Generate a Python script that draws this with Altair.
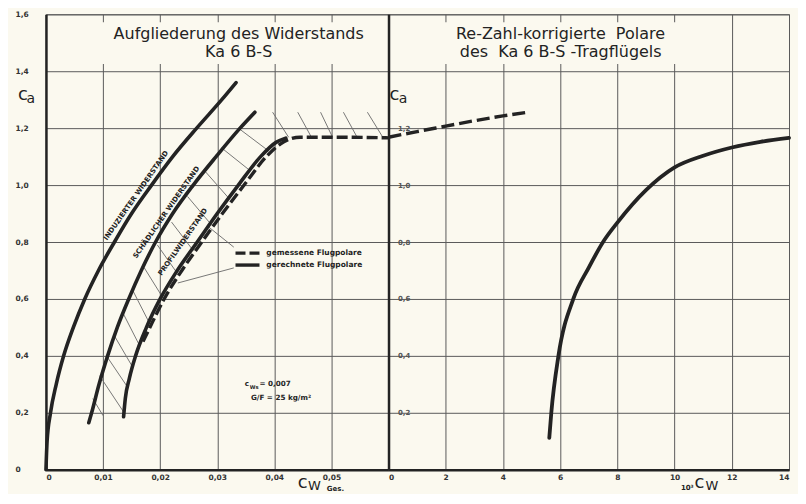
import altair as alt
import pandas as pd

# ---------------- data ----------------
# left panel: c_W Ges. (x) vs c_a (y)
ind_cw = [0.0, 0.0002, 0.0008, 0.0018, 0.0031, 0.0048, 0.0068, 0.0092, 0.0120, 0.0150, 0.0185, 0.0222, 0.0264, 0.0308, 0.0333]
ind_ca = [0.0, 0.10, 0.20, 0.30, 0.40, 0.50, 0.60, 0.70, 0.80, 0.90, 1.00, 1.10, 1.20, 1.30, 1.36]

par_cw = [0.0075, 0.0080, 0.0093, 0.0108, 0.0125, 0.0145, 0.0167, 0.0192, 0.0222, 0.0258, 0.0298, 0.0340, 0.0366]
par_ca = [0.165, 0.20, 0.30, 0.40, 0.50, 0.60, 0.70, 0.80, 0.90, 1.00, 1.10, 1.20, 1.256]

calc_cw = [0.0136, 0.0139, 0.0146, 0.0157, 0.0176, 0.0200, 0.0230, 0.0265, 0.0300, 0.0337, 0.0376, 0.0403, 0.0420]
calc_ca = [0.186, 0.25, 0.32, 0.40, 0.50, 0.60, 0.70, 0.80, 0.90, 1.00, 1.10, 1.15, 1.165]

meas_cw = [0.0170, 0.0182, 0.0207, 0.0238, 0.0273, 0.0309, 0.0347, 0.0386, 0.0411, 0.0428, 0.0445, 0.0520, 0.0600]
meas_ca = [0.45, 0.50, 0.60, 0.70, 0.80, 0.90, 1.00, 1.10, 1.145, 1.162, 1.168, 1.168, 1.166]

# hatching (profile drag) segments
hatch_x1 = [0.0082, 0.0094, 0.0106, 0.0120, 0.0135, 0.0152, 0.0172, 0.0195, 0.0220, 0.0248, 0.0278, 0.0308, 0.0337, 0.0397, 0.0441, 0.0481, 0.0521, 0.0563]
hatch_y1 = [0.25, 0.33, 0.40, 0.47, 0.55, 0.63, 0.71, 0.79, 0.87, 0.96, 1.05, 1.13, 1.20, 1.256, 1.256, 1.256, 1.256, 1.256]
hatch_x2 = [0.0100, 0.0137, 0.0143, 0.0152, 0.0163, 0.0180, 0.0203, 0.0230, 0.0258, 0.0290, 0.0322, 0.0358, 0.0390, 0.0425, 0.0465, 0.0502, 0.0545, 0.0590]
hatch_y2 = [0.19, 0.20, 0.29, 0.36, 0.44, 0.52, 0.61, 0.69, 0.77, 0.86, 0.95, 1.05, 1.12, 1.168, 1.168, 1.168, 1.168, 1.168]

# leader lines from the legend to the polars
lead_x1 = [0.0283, 0.0231]
lead_y1 = [0.856, 0.656]
lead_x2 = [0.0329, 0.0329]
lead_y2 = [0.782, 0.709]

legend_labels = ["gemessene Flugpolare", "gerechnete Flugpolare"]
legend_x1 = [0.0332, 0.0332]
legend_x2 = [0.0374, 0.0374]
legend_y = [0.761, 0.719]
legend_tx = [0.0386, 0.0386]

# right panel: 10^3 c_W (x) vs c_a (y)
re_meas_cw = [0.0, 1.0, 2.0, 3.0, 4.0, 4.8]
re_meas_ca = [1.168, 1.188, 1.207, 1.226, 1.243, 1.255]

re_pol_cw = [5.62, 5.69, 5.94, 6.46, 7.00, 7.50, 8.00, 9.00, 10.00, 11.00, 12.00, 13.00, 14.00]
re_pol_ca = [0.112, 0.20, 0.40, 0.60, 0.71, 0.80, 0.868, 0.982, 1.062, 1.103, 1.132, 1.152, 1.166]

y_ticks = [0.0, 0.2, 0.4, 0.6, 0.8, 1.0, 1.2, 1.4, 1.6]
xl_ticks = [0.0, 0.01, 0.02, 0.03, 0.04, 0.05]
xr_ticks = [0, 2, 4, 6, 8, 10, 12, 14]

# ---------------- style ----------------
BG = "#fbf9ef"
INK = "#232323"
GRID = "#5a5a5a"
FONT = "DejaVu Sans"
W_L, W_R, H = 343, 401, 456

sx_l = alt.Scale(domain=[0, 0.06], nice=False, zero=False)
sx_r = alt.Scale(domain=[0, 14], nice=False, zero=False)
sy = alt.Scale(domain=[0, 1.6], nice=False, zero=False)

common_axis = dict(grid=True, gridColor=GRID, gridWidth=1, ticks=False,
                   domainColor=INK, domainWidth=2.5, labelFont=FONT,
                   labelFontWeight="bold", labelFontSize=7.5, labelColor="#333333",
                   title=None)

ax_xl = alt.Axis(values=xl_ticks, labelPadding=4,
                 labelExpr="datum.value == 0 ? '0' : replace(format(datum.value, '.2f'), '.', ',')",
                 **common_axis)
ax_xr = alt.Axis(values=xr_ticks, labelPadding=4, labelExpr="format(datum.value, 'd')", **common_axis)
ax_yl = alt.Axis(values=y_ticks, labelAlign="left", labelPadding=31, labelBaseline="middle",
                 labelExpr="datum.value == 0 ? '0' : replace(format(datum.value, '.1f'), '.', ',')",
                 **common_axis)
ax_yr_opts = dict(common_axis)
ax_yr_opts.update(labelColor="#555555", labelFontSize=7)
ax_yr = alt.Axis(values=y_ticks, labelAlign="left", labelPadding=-9, labelBaseline="middle",
                 labelExpr="(datum.value < 0.1 || datum.value > 1.3) ? '' : replace(format(datum.value, '.1f'), '.', ',')",
                 **ax_yr_opts)


def XL(f="x"):
    return alt.X(f"{f}:Q", scale=sx_l, axis=ax_xl)


def XR(f="x"):
    return alt.X(f"{f}:Q", scale=sx_r, axis=ax_xr)


def YL(f="y"):
    return alt.Y(f"{f}:Q", scale=sy, axis=ax_yl)


def YR(f="y"):
    return alt.Y(f"{f}:Q", scale=sy, axis=ax_yr)


def curves(pairs):
    frames = []
    for name, xs, ys in pairs:
        frames.append(pd.DataFrame({"curve": name, "x": xs, "y": ys}))
    return pd.concat(frames, ignore_index=True)


def texts(xs, ys, ts, X, Y, size, **kw):
    df = pd.DataFrame({"x": xs, "y": ys, "t": ts})
    opts = dict(font=FONT, fontSize=size, color=INK)
    opts.update(kw)
    return alt.Chart(df).mark_text(**opts).encode(x=X(), y=Y(), text="t:N")


# ---------------- left panel ----------------
solid_l = alt.Chart(curves([("induziert", ind_cw, ind_ca),
                            ("schaedlich", par_cw, par_ca),
                            ("gerechnet", calc_cw, calc_ca)])).mark_line(
    interpolate="monotone", strokeWidth=3.6, color=INK, strokeCap="round").encode(
    x=XL(), y=YL(), detail="curve:N", order=alt.Order("x:Q"))

dash_l = alt.Chart(curves([("gemessen", meas_cw, meas_ca)])).mark_line(
    interpolate="monotone", strokeWidth=3.4, color=INK, strokeDash=[11, 4]).encode(
    x=XL(), y=YL(), order=alt.Order("x:Q"))

hatch = alt.Chart(pd.DataFrame({"x": hatch_x1, "y": hatch_y1, "x2": hatch_x2, "y2": hatch_y2})).mark_rule(
    strokeWidth=0.9, color="#6a6a6a").encode(x=XL(), y=YL(), x2="x2:Q", y2="y2:Q")

leaders = alt.Chart(pd.DataFrame({"x": lead_x1, "y": lead_y1, "x2": lead_x2, "y2": lead_y2})).mark_rule(
    strokeWidth=0.9, color="#6a6a6a").encode(x=XL(), y=YL(), x2="x2:Q", y2="y2:Q")

leg_df = pd.DataFrame({"x": legend_x1, "x2": legend_x2, "y": legend_y, "t": legend_labels, "tx": legend_tx})
leg_dash = alt.Chart(leg_df.iloc[[0]]).mark_rule(strokeWidth=3.4, color=INK, strokeDash=[10, 4]).encode(
    x=XL(), x2="x2:Q", y=YL())
leg_solid = alt.Chart(leg_df.iloc[[1]]).mark_rule(strokeWidth=3.4, color=INK).encode(
    x=XL(), x2="x2:Q", y=YL())
leg_text = alt.Chart(leg_df).mark_text(font=FONT, fontSize=7.5, fontWeight="bold", color=INK,
                                       align="left", baseline="middle").encode(
    x=XL("tx"), y=YL(), text="t:N")

box_l = alt.Chart(pd.DataFrame({"x": [0.0087], "x2": [0.0589], "y": [1.572], "y2": [1.425]})).mark_rect(
    fill=BG).encode(x=XL(), x2="x2:Q", y=YL(), y2="y2:Q")

title_l = texts([0.03376, 0.03376], [1.512, 1.450],
                ["Aufgliederung des Widerstands", "Ka 6 B-S"], XL, YL, 16,
                align="center", baseline="alphabetic")

curve_lbl = texts([0.0158, 0.0211, 0.0240], [0.963, 0.904, 0.800],
                  ["INDUZIERTER WIDERSTAND", "SCHÄDLICHER WIDERSTAND", "PROFILWIDERSTAND"],
                  XL, YL, 7, angle=305, fontWeight="bold", align="center", baseline="middle")

ca_l_c = texts([-0.0049], [1.298], ["c"], XL, YL, 18, align="left", baseline="alphabetic")
ca_l_a = texts([-0.0034], [1.288], ["a"], XL, YL, 14, align="left", baseline="alphabetic")

note_big = texts([0.0348, 0.0374, 0.0359], [0.295, 0.295, 0.2456],
                 ["c", "= 0,007", "G/F = 25 kg/m²"], XL, YL, 7.2,
                 fontWeight="bold", align="left", baseline="alphabetic")
note_sub = texts([0.0357], [0.284], ["Ws"], XL, YL, 5.2, fontWeight="bold", align="left", baseline="alphabetic")

xt_l_c = texts([0.0441], [-0.063], ["c"], XL, YL, 18, align="left", baseline="alphabetic")
xt_l_w = texts([0.0459], [-0.070], ["W"], XL, YL, 13, align="left", baseline="alphabetic")
xt_l_g = texts([0.0492], [-0.073], ["Ges."], XL, YL, 7, fontWeight="bold", align="left", baseline="alphabetic")

left = alt.layer(box_l, hatch, leaders, solid_l, dash_l, leg_dash, leg_solid, leg_text,
                 title_l, curve_lbl, ca_l_c, ca_l_a, note_big, note_sub,
                 xt_l_c, xt_l_w, xt_l_g).properties(width=W_L, height=H)

# ---------------- right panel ----------------
box_r = alt.Chart(pd.DataFrame({"x": [1.29], "x2": [10.61], "y": [1.572], "y2": [1.425]})).mark_rect(
    fill=BG).encode(x=XR(), x2="x2:Q", y=YR(), y2="y2:Q")

title_r = texts([6.01, 6.02], [1.512, 1.450],
                ["Re-Zahl-korrigierte\u00a0\u00a0Polare", "des\u00a0\u00a0Ka 6 B-S -Tragflügels"],
                XR, YR, 16, align="center", baseline="alphabetic")

dash_r = alt.Chart(curves([("gemessen", re_meas_cw, re_meas_ca)])).mark_line(
    interpolate="monotone", strokeWidth=3.4, color=INK, strokeDash=[13, 5]).encode(
    x=XR(), y=YR(), order=alt.Order("x:Q"))

solid_r = alt.Chart(curves([("Re-korrigiert", re_pol_cw, re_pol_ca)])).mark_line(
    interpolate="monotone", strokeWidth=3.8, color=INK, strokeCap="round").encode(
    x=XR(), y=YR(), order=alt.Order("x:Q"))

ca_r_c = texts([0.035], [1.298], ["c"], XR, YR, 18, align="left", baseline="alphabetic")
ca_r_a = texts([0.36], [1.288], ["a"], XR, YR, 14, align="left", baseline="alphabetic")

xt_r_10 = texts([10.22], [-0.070], ["10³"], XR, YR, 7, fontWeight="bold", align="left", baseline="alphabetic")
xt_r_c = texts([10.70], [-0.063], ["c"], XR, YR, 18, align="left", baseline="alphabetic")
xt_r_w = texts([11.08], [-0.070], ["W"], XR, YR, 13, align="left", baseline="alphabetic")

right = alt.layer(box_r, dash_r, solid_r, title_r, ca_r_c, ca_r_a,
                  xt_r_10, xt_r_c, xt_r_w).properties(width=W_R, height=H)

chart = alt.hconcat(left, right, spacing=0).properties(
    bounds="flush",
    padding={"left": 6, "top": 1, "right": 0, "bottom": 0},
    background=BG,
).configure_view(stroke=GRID, strokeWidth=1)

chart.save("out.html", embed_options={"renderer": "svg", "actions": False})
